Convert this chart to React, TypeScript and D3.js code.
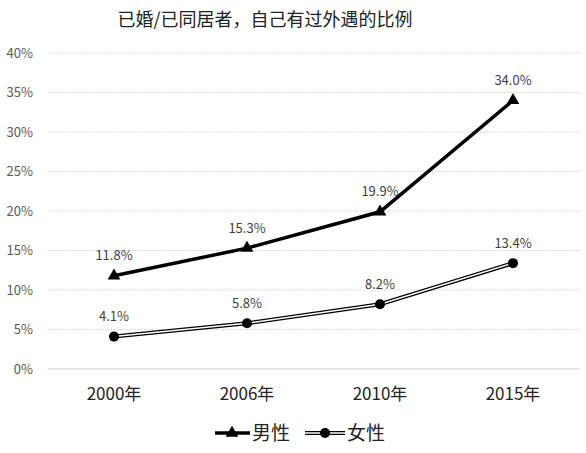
import * as d3 from 'd3'

const years = ['2000年', '2006年', '2010年', '2015年']
const male = [11.8, 15.3, 19.9, 34.0]
const female = [4.1, 5.8, 8.2, 13.4]
const yTicks = [0, 5, 10, 15, 20, 25, 30, 35, 40]

const W = 586
const H = 453
const FONT = '"Noto Sans CJK SC", "Noto Sans", sans-serif'

export default function App() {
  const x = d3.scalePoint<string>().domain(years).range([114, 513])
  const y = d3.scaleLinear().domain([0, 40]).range([369, 53])

  const line = d3.line<number>()
    .x((_, i) => x(years[i]) as number)
    .y(d => y(d))

  const tri = d3.symbol().type(d3.symbolTriangle).size(70)()
  const gridL = 48
  const gridR = 580

  return (
    <svg width={W} height={H} style={{ position: 'absolute', left: 0, top: 0, background: '#fff' }}
      fontFamily={FONT}>
      <text x={265} y={26} textAnchor="middle" fontSize={18} fill="#222">已婚/已同居者，自己有过外遇的比例</text>

      {yTicks.map(t => (
        <g key={t}>
          <line x1={gridL} x2={gridR} y1={y(t)} y2={y(t)}
            stroke={t === 0 ? '#d0d0d0' : '#cfcfcf'} strokeWidth={1}
            strokeDasharray={t === 0 ? undefined : '1.5,1.5'} />
          <text x={33} y={y(t)} dy="0.35em" textAnchor="end" fontSize={13} fill="#595959">{t}%</text>
        </g>
      ))}

      {years.map(yr => (
        <text key={yr} x={x(yr)} y={394} dy="0.35em" textAnchor="middle" fontSize={17} fill="#222">{yr}</text>
      ))}

      {/* male */}
      <path d={line(male) ?? ''} fill="none" stroke="#000" strokeWidth={3.5} />
      {male.map((v, i) => (
        <g key={i}>
          <path d={tri} transform={`translate(${x(years[i])},${y(v)})`} fill="#000" />
          <text x={x(years[i])} y={y(v) - 20} dy="0.35em" textAnchor="middle" fontSize={13} fill="#404040">{v.toFixed(1)}%</text>
        </g>
      ))}

      {/* female */}
      <path d={line(female) ?? ''} fill="none" stroke="#000" strokeWidth={4} />
      <path d={line(female) ?? ''} fill="none" stroke="#fff" strokeWidth={1.5} />
      {female.map((v, i) => (
        <g key={i}>
          <circle cx={x(years[i])} cy={y(v)} r={5} fill="#000" />
          <text x={x(years[i])} y={y(v) - 20} dy="0.35em" textAnchor="middle" fontSize={13} fill="#404040">{v.toFixed(1)}%</text>
        </g>
      ))}

      {/* legend */}
      <g>
        <line x1={215} x2={250} y1={433} y2={433} stroke="#000" strokeWidth={3.5} />
        <path d={tri} transform="translate(232,433)" fill="#000" />
        <text x={252} y={433} dy="0.35em" fontSize={19} fill="#222">男性</text>
        <line x1={305} x2={345} y1={433} y2={433} stroke="#000" strokeWidth={4} />
        <line x1={305} x2={345} y1={433} y2={433} stroke="#fff" strokeWidth={1.5} />
        <circle cx={325} cy={433} r={5} fill="#000" />
        <text x={347} y={433} dy="0.35em" fontSize={19} fill="#222">女性</text>
      </g>
    </svg>
  )
}
